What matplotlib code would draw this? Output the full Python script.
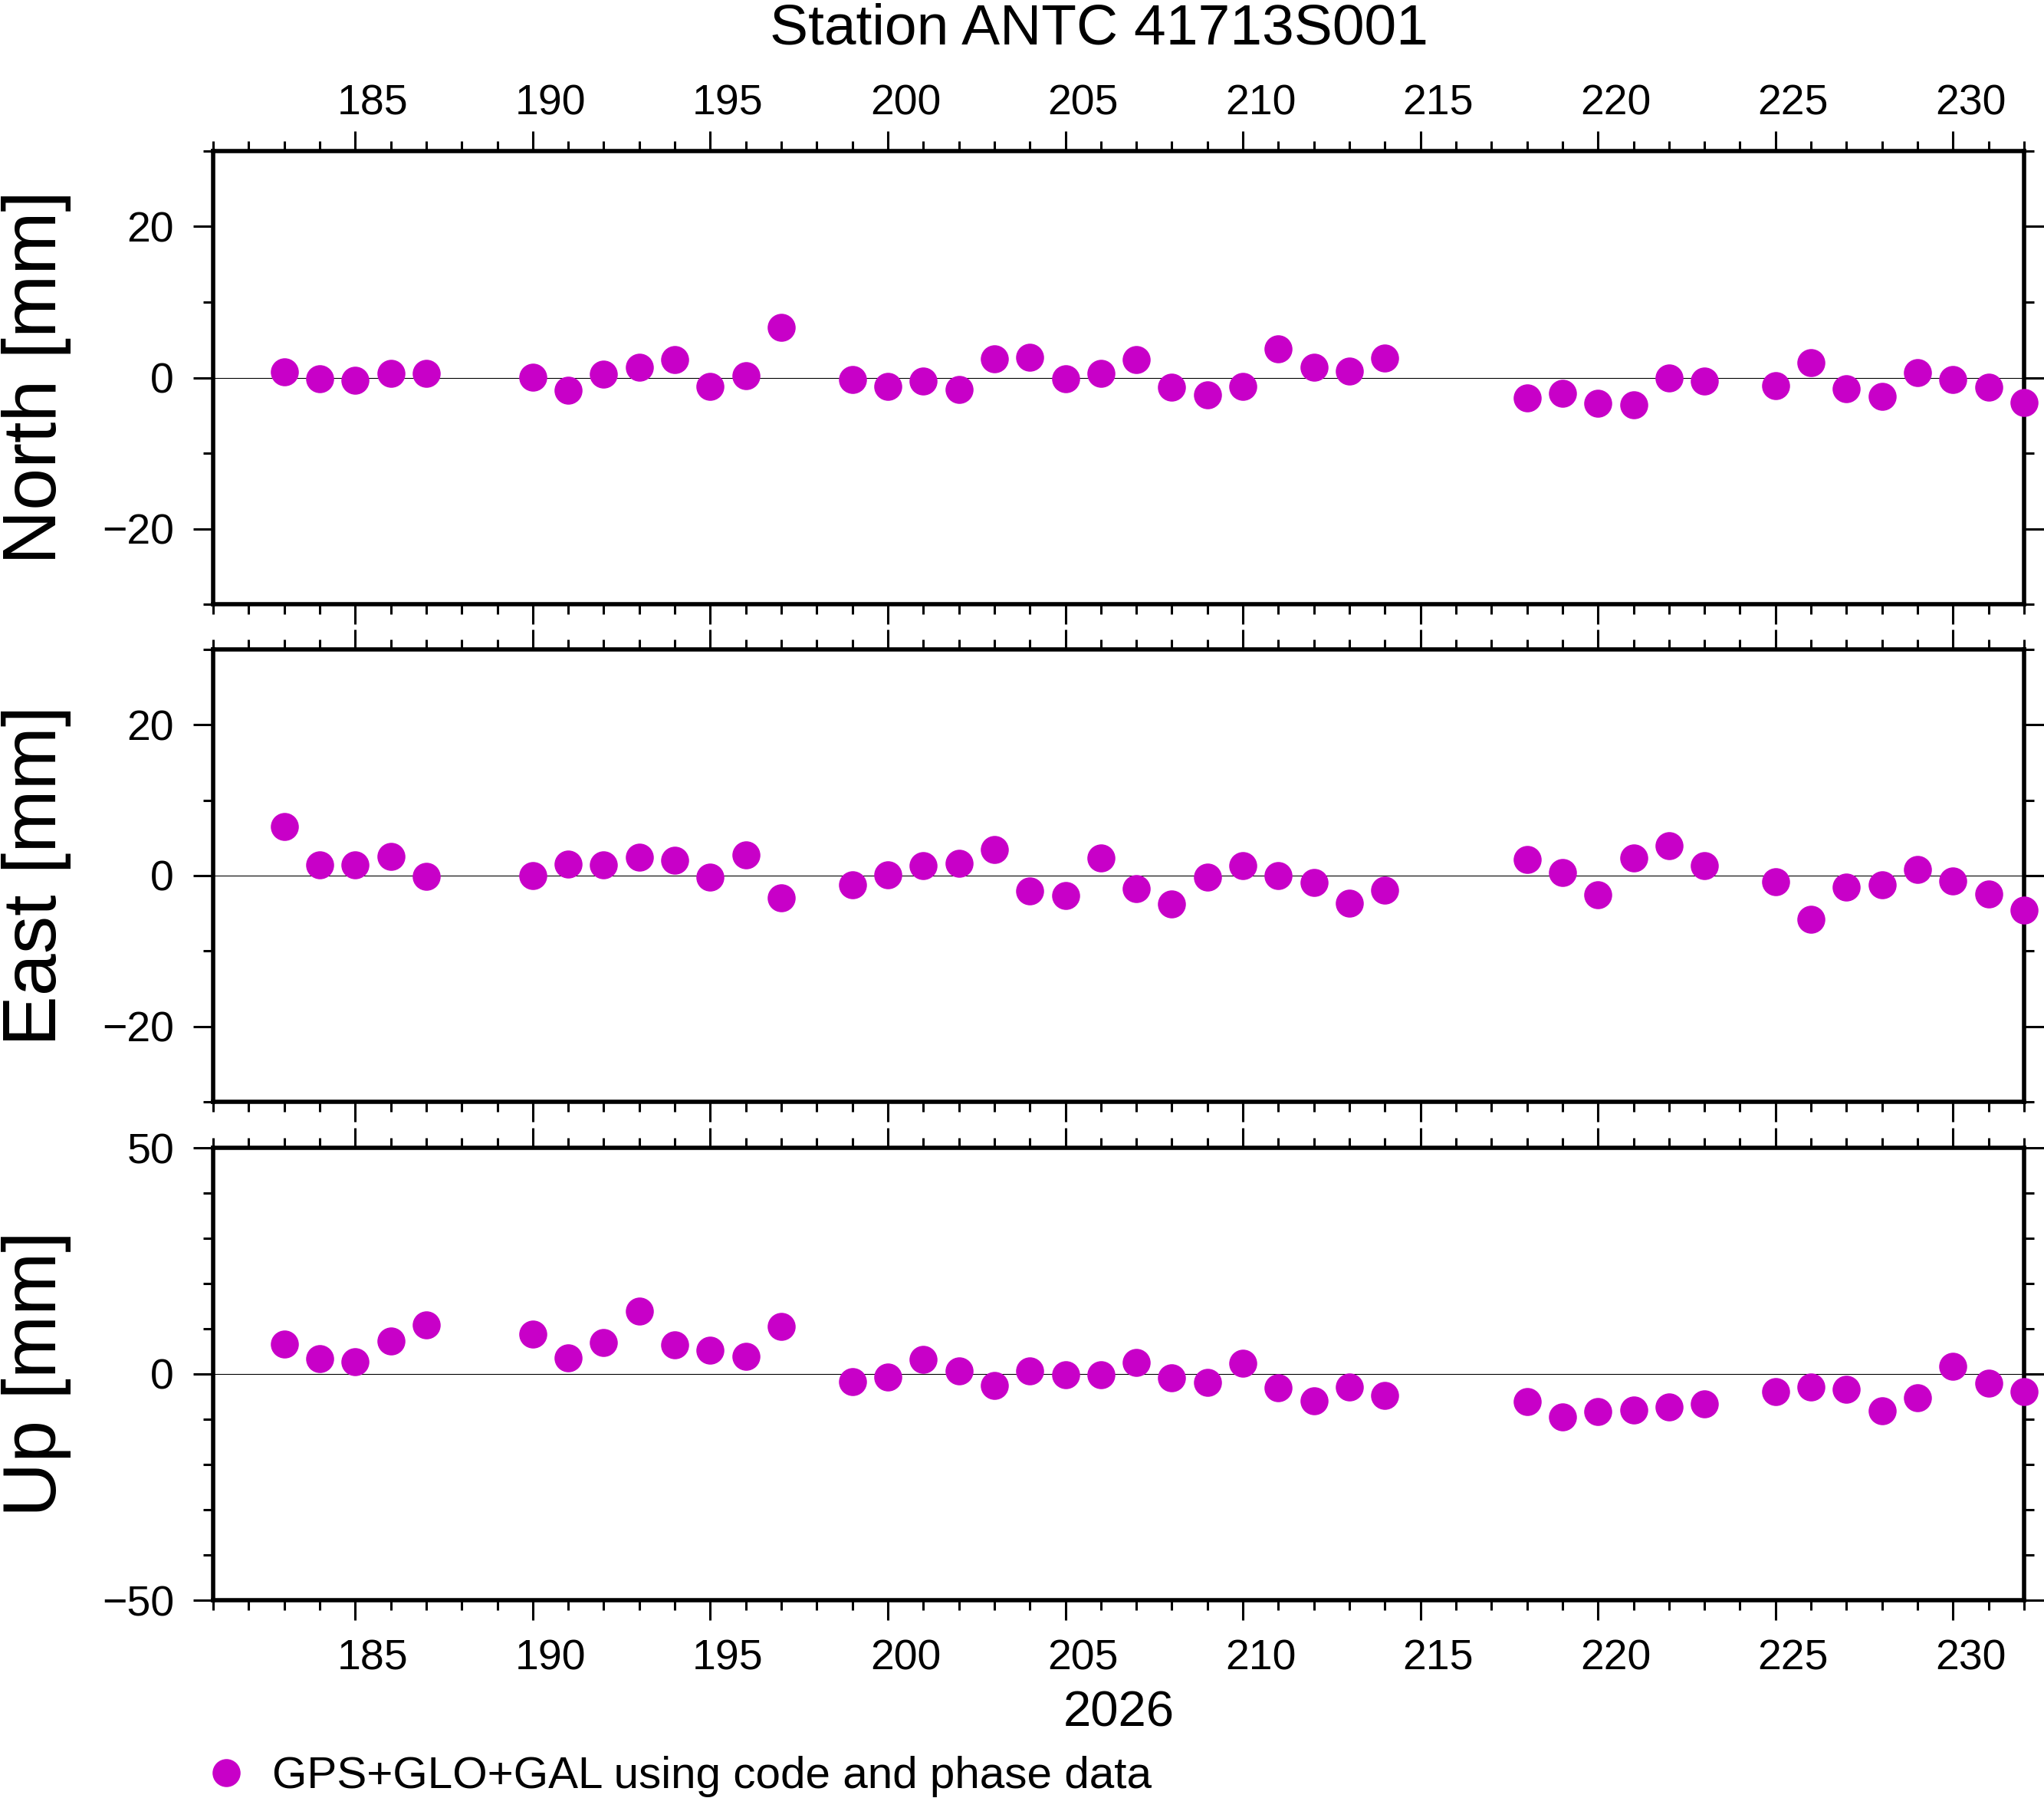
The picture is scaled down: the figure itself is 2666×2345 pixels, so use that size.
import matplotlib
matplotlib.use('Agg')
import matplotlib.pyplot as plt
from matplotlib.ticker import FixedLocator
from matplotlib.transforms import ScaledTranslation

plt.rcParams['font.family'] = ['Liberation Sans', 'DejaVu Sans']

# ---- data ----
days = [183, 184, 185, 186, 187,
        190, 191, 192, 193, 194, 195, 196, 197,
        199, 200, 201, 202, 203, 204, 205, 206, 207, 208, 209, 210, 211, 212, 213, 214,
        218, 219, 220, 221, 222, 223,
        225, 226, 227, 228, 229, 230, 231, 232]

north = [0.81, -0.12, -0.32, 0.59, 0.59,
         0.08, -1.64, 0.49, 1.40, 2.42, -1.13, 0.29, 6.67,
         -0.22, -1.13, -0.42, -1.54, 2.52, 2.72, -0.12, 0.59, 2.43, -1.23, -2.25, -1.13, 3.83, 1.40, 0.90, 2.62,
         -2.65, -2.04, -3.36, -3.56, -0.02, -0.42,
         -1.03, 2.01, -1.44, -2.45, 0.69, -0.22, -1.23, -3.26]

east = [6.51, 1.42, 1.42, 2.54, -0.10,
        0.00, 1.53, 1.42, 2.44, 2.03, -0.20, 2.75, -2.95,
        -1.22, 0.10, 1.32, 1.63, 3.46, -2.03, -2.64, 2.34, -1.73, -3.76, -0.20, 1.32, 0.00, -0.92, -3.66, -1.93,
        2.14, 0.41, -2.54, 2.34, 3.97, 1.32,
        -0.81, -5.80, -1.53, -1.22, 0.81, -0.71, -2.44, -4.58]

up = [6.57, 3.37, 2.70, 7.25, 10.79,
      8.76, 3.54, 6.91, 13.82, 6.40, 5.22, 3.88, 10.45,
      -1.69, -0.67, 3.20, 0.67, -2.53, 0.67, -0.17, -0.17, 2.53, -0.84, -1.85, 2.36, -3.03, -5.90, -2.87, -4.72,
      -6.07, -9.44, -8.26, -7.92, -7.25, -6.57,
      -3.88, -2.87, -3.37, -8.09, -5.22, 1.69, -2.02, -3.88]

components = ['North [mm]', 'East [mm]', 'Up [mm]']
series = [north, east, up]
ylims = [(-30, 30), (-30, 30), (-50, 50)]
ymajor = [[-20, 0, 20], [-20, 0, 20], [-50, 0, 50]]
yminor = [list(range(-30, 31, 10)), list(range(-30, 31, 10)), list(range(-50, 51, 10))]

xmin, xmax = 181, 232
xmajor = list(range(185, 231, 5))
xminor = list(range(181, 233))

title = 'Station ANTC 41713S001'
year_label = '2026'
legend_label = 'GPS+GLO+GAL using code and phase data'

color = '#c800c8'
W, H = 2666, 2345

fig = plt.figure(figsize=(W / 100, H / 100), dpi=100)

L, R = 278 / W, 2640 / W
panels = [(197, 788), (847, 1437), (1497, 2087)]

axes = []
for i, ((t, b), vals) in enumerate(zip(panels, series)):
    ax = fig.add_axes([L, 1 - b / H, R - L, (b - t) / H])
    axes.append(ax)
    ax.set_xlim(xmin, xmax)
    ax.set_ylim(*ylims[i])
    ax.xaxis.set_major_locator(FixedLocator(xmajor))
    ax.xaxis.set_minor_locator(FixedLocator(xminor))
    ax.yaxis.set_major_locator(FixedLocator(ymajor[i]))
    ax.yaxis.set_minor_locator(FixedLocator(yminor[i]))
    for sp in ax.spines.values():
        sp.set_linewidth(4)
    ax.tick_params(axis='both', which='both', direction='out',
                   top=True, bottom=True, left=True, right=True,
                   width=2.2, colors='black', labelsize=40)
    ax.tick_params(axis='both', which='major', length=18.7)
    ax.tick_params(axis='both', which='minor', length=9.4)
    ax.tick_params(axis='y', which='major', pad=18, labelright=False)
    ax.tick_params(axis='x', which='major',
                   labeltop=(i == 0), labelbottom=(i == 2))
    if i == 0:
        ax.tick_params(axis='x', which='major', pad=7)
    if i == 2:
        ax.tick_params(axis='x', which='major', pad=18)
    ax.axhline(0, color='black', lw=0.8, zorder=1)
    ax.plot(days, vals, 'o', ms=26.3, color=color, mec='none',
            clip_on=False, zorder=5, label=legend_label)
    fig.text(48 / W, 1 - (t + b) / 2 / H, components[i], rotation=90,
             ha='center', va='center', fontsize=71)

# shift x tick labels by half a day to the right (annotation between ticks)
for ax in axes:
    bbox = ax.get_position()
    dx_in = 0.5 * bbox.width * fig.get_figwidth() / (xmax - xmin)
    off = ScaledTranslation(dx_in, 0, fig.dpi_scale_trans)
    for tk in ax.xaxis.get_major_ticks():
        tk.label1.set_transform(tk.label1.get_transform() + off)
        tk.label2.set_transform(tk.label2.get_transform() + off)

fig.text(1433 / W, 1 - 57 / H, title, ha='center', va='baseline', fontsize=54)
fig.text((L + R) / 2, 1 - 2252 / H, year_label, ha='center', va='baseline', fontsize=47)

handles, labels = axes[2].get_legend_handles_labels()
fig.legend(handles, labels, loc='center left',
           bbox_to_anchor=(266 / W, 1 - 2317 / H), frameon=False,
           fontsize=42, handlelength=1.0, handletextpad=0.52,
           borderpad=0, borderaxespad=0, numpoints=1)

fig.savefig('out.png', dpi=100)
